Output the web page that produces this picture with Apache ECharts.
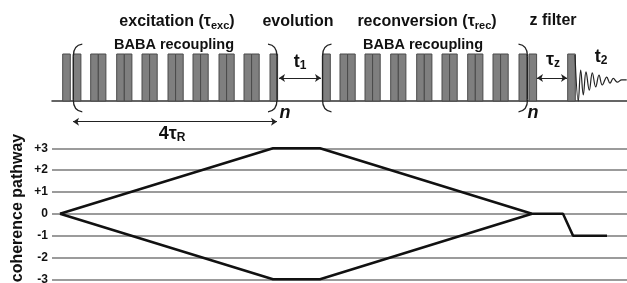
<!DOCTYPE html>
<html>
<head>
<meta charset="utf-8">
<title>BABA pulse sequence</title>
<script src="https://cdn.jsdelivr.net/npm/echarts@6/dist/echarts.min.js"></script>
</head>
<body style="margin:0;background:#fff;">
<div id="main" style="width:627px;height:283px;"></div>
<script type="text/javascript">
// time axis in arbitrary units; each pulse lasts pulseLen
var pulseStarts = [62.7, 73.3,
    90.7, 98.3, 116.7, 124.3, 142, 149.6, 168, 175.6, 193, 200.6, 219, 226.6, 244, 251.6,
    270,
    322.7,
    340, 347.6, 365, 372.6, 390.7, 398.3, 416.7, 424.3, 442, 449.6, 467.7, 475.3, 493, 500.6,
    519, 529, 567.7];
var pulseLen = 7.6;
// [time, side]: 1 = "(", -1 = ")"
var brackets = [[73.3, 1], [277, -1], [322.5, 1], [527.5, -1]];
// double arrows [from, to, level]
var arrows = [[279, 321, 0.49], [537, 567, 0.49], [73, 277, -0.44]];
// FID after the read pulse
var fid = [[575, 0.98], [578.3, 0], [580.7, 0.66], [583.3, 0.13], [586, 0.62], [589.3, 0.23],
    [592.3, 0.6], [595.7, 0.3], [599, 0.55], [602.3, 0.34], [606.7, 0.51], [610, 0.38],
    [613.3, 0.48], [617.3, 0.4], [621.7, 0.45], [626.7, 0.45]];
// coherence pathway
var pathUpper = [[60, 0], [273, 3], [320, 3], [532, 0], [563, 0], [573, -1], [607, -1]];
var pathLower = [[60, 0], [273, -3], [320, -3], [532, 0]];

var FONT = 'Liberation Sans, Arial, sans-serif';

function txt(x, y, text, size, italic) {
    return {
        type: 'text', x: x, y: y, z: 10,
        style: {
            text: text, fill: '#111', fontFamily: FONT, fontWeight: 'bold',
            fontStyle: italic ? 'italic' : 'normal', fontSize: size,
            align: 'center', verticalAlign: 'middle',
            rich: {
                m: {fontFamily: FONT, fontWeight: 'bold', fontSize: size, fill: '#111'},
                s: {fontFamily: FONT, fontWeight: 'bold', fontSize: Math.round(size * 0.68), fill: '#111', padding: [Math.round(size * 0.45), 0, 0, 0]}
            }
        }
    };
}

var lineCol = '#222';

var myChart = echarts.init(document.getElementById('main'));
var yTitle = txt(18, 208, 'coherence pathway', 16);
yTitle.rotation = Math.PI / 2;

myChart.setOption({
    animation: false,
    grid: [
        {left: 52, right: 0, top: 54, height: 47, outerBoundsMode: 'none', containLabel: false},
        {left: 52, right: 0, top: 148.3, height: 131, outerBoundsMode: 'none', containLabel: false}
    ],
    xAxis: [
        {gridIndex: 0, type: 'value', min: 52, max: 627,
            axisLine: {show: true, lineStyle: {color: '#333', width: 1.5}},
            axisTick: {show: false}, axisLabel: {show: false}, splitLine: {show: false}},
        {gridIndex: 1, type: 'value', min: 52, max: 627, show: false}
    ],
    yAxis: [
        {gridIndex: 0, type: 'value', min: 0, max: 1, show: false},
        {gridIndex: 1, type: 'value', min: -3, max: 3, interval: 1,
            axisLine: {show: false}, axisTick: {show: false},
            splitLine: {lineStyle: {color: '#7a7a7a', width: 1.5}},
            axisLabel: {
                margin: 4, color: '#111', fontFamily: FONT, fontWeight: 'bold', fontSize: 12,
                formatter: function (v) { return v > 0 ? '+' + v : '' + v; }
            }
        }
    ],
    series: [
        {
            type: 'custom', xAxisIndex: 0, yAxisIndex: 0,
            data: pulseStarts.map(function (s) { return [s, s + pulseLen]; }),
            renderItem: function (params, api) {
                var p0 = api.coord([api.value(0), 1]);
                var p1 = api.coord([api.value(1), 0]);
                return {
                    type: 'rect',
                    shape: {x: p0[0], y: p0[1], width: p1[0] - p0[0], height: p1[1] - p0[1]},
                    style: {fill: '#7f7f7f', stroke: '#4a4a4a', lineWidth: 1}
                };
            }
        },
        {
            type: 'custom', xAxisIndex: 0, yAxisIndex: 0,
            data: brackets,
            renderItem: function (params, api) {
                var side = api.value(1);
                var top = api.coord([api.value(0), 1.21]);
                var bot = api.coord([api.value(0), -0.23]);
                var px = top[0], d = 9 * side;
                var st = {stroke: lineCol, lineWidth: 1.3, fill: null};
                return {
                    type: 'group', children: [
                        {type: 'bezierCurve', shape: {x1: px + d, y1: top[1], cpx1: px, cpy1: top[1] + 1, x2: px, y2: top[1] + 12}, style: st},
                        {type: 'line', shape: {x1: px, y1: top[1] + 12, x2: px, y2: bot[1] - 12}, style: st},
                        {type: 'bezierCurve', shape: {x1: px, y1: bot[1] - 12, cpx1: px, cpy1: bot[1] - 1, x2: px + d, y2: bot[1]}, style: st}
                    ]
                };
            }
        },
        {
            type: 'lines', coordinateSystem: 'cartesian2d', xAxisIndex: 0, yAxisIndex: 0,
            clip: false, symbol: ['arrow', 'arrow'], symbolSize: 6,
            lineStyle: {color: lineCol, width: 1, opacity: 1},
            data: arrows.map(function (a) { return {coords: [[a[0], a[2]], [a[1], a[2]]]}; })
        },
        {
            type: 'line', xAxisIndex: 0, yAxisIndex: 0, clip: false,
            data: fid, showSymbol: false, smooth: 0.4,
            lineStyle: {color: lineCol, width: 1.2}
        },
        {
            type: 'line', xAxisIndex: 1, yAxisIndex: 1, clip: false,
            data: pathUpper, showSymbol: false,
            lineStyle: {color: '#111', width: 2.5}
        },
        {
            type: 'line', xAxisIndex: 1, yAxisIndex: 1, clip: false,
            data: pathLower, showSymbol: false,
            lineStyle: {color: '#111', width: 2.5}
        }
    ],
    graphic: [
        txt(177, 22, '{m|excitation (τ}{s|exc}{m|)}', 16),
        txt(174, 45, 'BABA recoupling', 14.5),
        txt(298, 22, 'evolution', 16),
        txt(427, 22, '{m|reconversion (τ}{s|rec}{m|)}', 16),
        txt(423, 45, 'BABA recoupling', 14.5),
        txt(553, 21, 'z filter', 16),
        txt(300, 62, '{m|t}{s|1}', 18),
        txt(553, 60, '{m|τ}{s|z}', 18),
        txt(601, 57, '{m|t}{s|2}', 18),
        txt(285, 113, 'n', 18, true),
        txt(533, 113, 'n', 18, true),
        txt(172, 134, '{m|4τ}{s|R}', 18),
        yTitle
    ]
});
</script>
</body>
</html>
